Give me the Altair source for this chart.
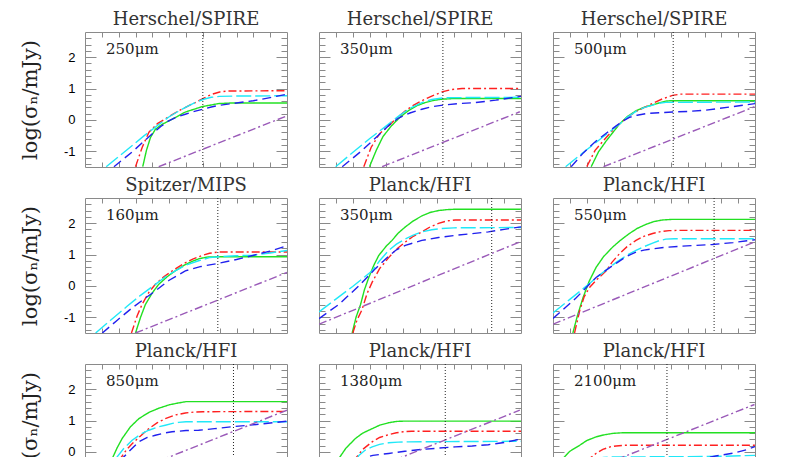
import altair as alt
import pandas as pd

TITLES = ["Herschel/SPIRE", "Herschel/SPIRE", "Herschel/SPIRE",
          "Spitzer/MIPS", "Planck/HFI", "Planck/HFI",
          "Planck/HFI", "Planck/HFI", "Planck/HFI"]
BANDS = ["250μm", "350μm", "500μm", "160μm", "350μm", "550μm",
         "850μm", "1380μm", "2100μm"]
VLINES = [7.0, 7.36, 7.14, 7.89, 10.26, 9.57, 8.82, 7.5, 6.77]

X_TICKS = list(range(1, 12))
Y_MAJOR = [-1, 0, 1, 2]
Y_MINOR = [-1.4, -1.2, -0.8, -0.6, -0.4, -0.2, 0.2, 0.4, 0.6, 0.8,
           1.2, 1.4, 1.6, 1.8, 2.2, 2.4, 2.6]

SERIES = ["s1", "s2", "s3", "s4", "s5"]
COLORS = ["#22e022", "#ff2020", "#20e8f8", "#2020ee", "#9a5ab8"]
DASHES = [[1, 0], [8, 3, 2, 3], [15, 4], [9, 5], [8, 3, 2, 3]]

GREEN = [
    [(3.43, -1.49), (3.65, -0.97), (3.89, -0.56), (4.18, -0.3), (4.58, -0.14), (5.17, 0.02),
     (5.96, 0.25), (6.94, 0.42), (7.93, 0.52), (8.7, 0.54), (12, 0.54)],
    [(3.0, -1.49), (3.4, -0.97), (3.8, -0.53), (4.3, -0.19), (4.8, 0.08), (5.3, 0.29), (5.8, 0.45),
     (6.3, 0.55), (6.8, 0.62), (7.3, 0.66), (8, 0.68), (12, 0.68)],
    [(2.27, -1.49), (2.7, -1.02), (3.16, -0.67), (3.6, -0.37), (3.94, -0.14), (4.4, 0.1), (4.93, 0.29),
     (5.4, 0.4), (5.92, 0.48), (6.3, 0.54), (6.7, 0.6), (7, 0.61), (12, 0.61)],
    [(3.0, -1.5), (3.3, -1.0), (3.59, -0.59), (4.0, -0.22), (4.38, 0.05), (4.9, 0.3), (5.36, 0.48),
     (5.9, 0.66), (6.35, 0.78), (6.8, 0.87), (7.3, 0.92), (8, 0.93), (12, 0.93)],
    [(1.97, -1.5), (2.2, -1.0), (2.47, -0.59), (2.7, -0.12), (2.96, 0.27), (3.25, 0.65), (3.55, 0.97),
     (4.0, 1.27), (4.34, 1.45), (4.7, 1.68), (5.13, 1.88), (5.6, 2.07), (6.11, 2.23), (6.6, 2.34),
     (7.1, 2.4), (7.6, 2.43), (8, 2.44), (12, 2.44)],
    [(1.18, -1.5), (1.45, -0.95), (1.78, -0.38), (2.15, 0.15), (2.56, 0.59), (3.0, 0.93), (3.55, 1.24),
     (4.0, 1.45), (4.54, 1.67), (5.0, 1.83), (5.52, 1.96), (6.0, 2.05), (6.51, 2.1), (7.1, 2.12),
     (12, 2.12)],
    [(1.55, -0.3), (1.62, -0.21), (1.9, 0.12), (2.21, 0.43), (2.7, 0.8), (3.2, 1.06), (3.8, 1.26),
     (4.38, 1.39), (5.0, 1.5), (5.56, 1.56), (6.0, 1.6), (12, 1.6)],
    [(1.05, -0.32), (1.18, -0.21), (1.6, 0.12), (2.17, 0.43), (2.6, 0.6), (3.16, 0.74), (3.6, 0.85),
     (4.14, 0.93), (4.6, 0.97), (5, 0.98), (12, 0.98)],
    [(0.5, -0.31), (0.59, -0.21), (1.0, 0.02), (1.58, 0.21), (2.0, 0.36), (2.56, 0.48), (3.0, 0.54),
     (3.55, 0.59), (4.14, 0.61), (12, 0.61)],
]

RED = [
    [(3.0, -1.49), (3.4, -0.87), (3.8, -0.39), (4.3, -0.12), (4.97, 0.1), (5.5, 0.27), (6.0, 0.41),
     (6.5, 0.54), (7.0, 0.68), (7.5, 0.81), (8.0, 0.89), (8.5, 0.92), (12, 0.93)],
    [(2.66, -1.49), (3.1, -0.87), (3.6, -0.44), (4.14, -0.19), (4.6, 0.05), (5.13, 0.29), (5.6, 0.46),
     (6.11, 0.61), (6.7, 0.76), (7.36, 0.9), (7.9, 0.97), (8.5, 1.0), (12, 1.0)],
    [(2.01, -1.49), (2.5, -0.97), (3.16, -0.56), (3.8, -0.19), (4.54, 0.13), (5.0, 0.29), (5.52, 0.42),
     (6.0, 0.55), (6.5, 0.67), (7.1, 0.78), (7.6, 0.82), (12, 0.82)],
    [(2.76, -1.5), (3.1, -0.95), (3.39, -0.59), (3.8, -0.2), (4.18, 0.05), (4.7, 0.3), (5.3, 0.52),
     (5.9, 0.72), (6.4, 0.85), (6.9, 0.96), (7.4, 1.04), (7.93, 1.08), (12, 1.08)],
    [(2.01, -1.5), (2.25, -1.1), (2.56, -0.75), (2.85, -0.25), (3.16, 0.12), (3.6, 0.55), (4.14, 0.9),
     (4.6, 1.17), (5.13, 1.4), (5.6, 1.58), (6.11, 1.72), (6.6, 1.88), (7.1, 1.99), (7.6, 2.07),
     (8.1, 2.1), (12, 2.1)],
    [(1.28, -1.5), (1.58, -0.8), (1.85, -0.35), (2.17, -0.05), (2.6, 0.2), (3.16, 0.48), (3.5, 0.75),
     (3.94, 1.02), (4.4, 1.25), (4.93, 1.45), (5.4, 1.58), (5.92, 1.67), (6.4, 1.73), (6.9, 1.76),
     (7.5, 1.77), (12, 1.77)],
    [(2.0, -0.3), (2.11, -0.21), (2.45, 0.06), (2.8, 0.26), (3.3, 0.51), (3.79, 0.74), (4.3, 0.93),
     (4.77, 1.06), (5.4, 1.18), (5.96, 1.24), (6.5, 1.27), (7, 1.28), (12, 1.29)],
    [(2.05, -0.32), (2.17, -0.21), (2.6, 0.08), (3.16, 0.32), (3.6, 0.46), (4.14, 0.55), (4.6, 0.61),
     (5.0, 0.64), (5.5, 0.66), (12, 0.66)],
    [(2.05, -0.33), (2.17, -0.21), (2.55, -0.05), (2.96, 0.08), (3.4, 0.16), (3.75, 0.19), (4.2, 0.21),
     (12, 0.21)],
]

CYAN = [
    [(1.26, -1.49), (2.5, -0.95), (3.5, -0.51), (4.4, -0.14), (5.0, 0.1), (5.5, 0.26), (6.0, 0.41),
     (6.5, 0.54), (7.0, 0.65), (7.5, 0.72), (8.0, 0.75), (9, 0.76), (12, 0.77)],
    [(0.99, -1.49), (2, -1.04), (3, -0.6), (4, -0.19), (4.73, 0.12), (5.4, 0.37), (6.11, 0.55),
     (6.7, 0.65), (7.36, 0.7), (8, 0.71), (12, 0.72)],
    [(0.75, -1.49), (2, -0.95), (3, -0.53), (3.94, -0.14), (4.4, 0.08), (4.93, 0.27), (5.4, 0.39),
     (5.92, 0.47), (6.3, 0.53), (6.7, 0.56), (7.5, 0.56), (12, 0.57)],
    [(0.63, -1.5), (1.5, -1.1), (2.5, -0.65), (3.3, -0.3), (4.18, 0.05), (4.8, 0.3), (5.36, 0.48),
     (6.0, 0.66), (6.75, 0.8), (7.4, 0.9), (7.93, 0.93), (9, 0.96), (10, 0.98), (11, 1.05), (12, 1.13)],
    [(0, -0.83), (1, -0.42), (2, -0.02), (3.16, 0.48), (3.6, 0.8), (4.14, 1.13), (4.6, 1.33),
     (5.13, 1.5), (5.6, 1.62), (6.11, 1.72), (6.7, 1.79), (7.3, 1.83), (8, 1.85), (12, 1.86)],
    [(0, -0.86), (1, -0.43), (2, 0.0), (2.8, 0.36), (3.75, 0.75), (4.4, 0.98), (4.93, 1.13),
     (5.4, 1.25), (5.92, 1.36), (6.3, 1.44), (6.7, 1.49), (7.2, 1.5), (12, 1.5)],
    [(1.8, -0.27), (1.91, -0.16), (2.3, 0.11), (2.8, 0.37), (3.3, 0.56), (3.79, 0.69), (4.3, 0.79),
     (4.77, 0.85), (5.2, 0.91), (5.56, 0.94), (6, 0.96), (12, 0.96)],
    [(2.2, -0.28), (2.37, -0.11), (2.75, 0.06), (3.16, 0.16), (3.6, 0.24), (4.14, 0.29), (4.7, 0.31),
     (5.3, 0.32), (12, 0.34)],
    [(2.4, -0.28), (2.56, -0.22), (3.0, -0.18), (3.55, -0.16), (4.5, -0.16), (8, -0.15), (10, -0.14),
     (12, -0.11)],
]

BLUE = [
    [(1.72, -1.49), (2.8, -1.02), (3.98, -0.45), (4.5, -0.21), (4.97, -0.03), (5.5, 0.1), (5.96, 0.18),
     (6.5, 0.27), (6.98, 0.34), (7.5, 0.41), (7.93, 0.46), (9, 0.54), (10, 0.61), (11, 0.71), (12, 0.82)],
    [(1.38, -1.49), (2.5, -1.0), (3.55, -0.48), (4.2, -0.15), (4.73, 0.06), (5.4, 0.22), (6.11, 0.34),
     (6.7, 0.42), (7.36, 0.47), (8.3, 0.52), (9.27, 0.55), (10.5, 0.63), (12, 0.75)],
    [(1.08, -1.49), (1.8, -1.05), (2.56, -0.67), (3.2, -0.41), (3.75, -0.19), (4.2, -0.02), (4.54, 0.08),
     (5.0, 0.15), (5.52, 0.2), (6.3, 0.23), (7.1, 0.25), (8, 0.27), (9.07, 0.31), (10.5, 0.41), (12, 0.52)],
    [(1.03, -1.5), (1.9, -1.1), (2.8, -0.7), (3.5, -0.42), (4.18, -0.16), (5.0, 0.18), (5.96, 0.48),
     (6.9, 0.62), (7.93, 0.72), (9, 0.84), (9.9, 0.96), (11, 1.11), (12, 1.28)],
    [(0, -1.04), (1.18, -0.59), (2.37, 0.0), (3.35, 0.55), (4.14, 0.95), (4.6, 1.15), (5.13, 1.29),
     (6.11, 1.45), (7.1, 1.54), (8.09, 1.61), (9, 1.66), (10.06, 1.72), (11, 1.8), (12, 1.88)],
    [(0, -1.04), (1.38, -0.38), (2.56, 0.27), (3.2, 0.52), (3.75, 0.72), (4.4, 0.95), (4.93, 1.08),
     (5.4, 1.14), (5.92, 1.18), (6.7, 1.23), (7.5, 1.26), (8.5, 1.29), (9.47, 1.32), (10.7, 1.38), (12, 1.47)],
    [(2.1, -0.31), (2.21, -0.21), (2.7, 0.06), (3.2, 0.32), (3.7, 0.46), (4.18, 0.53), (4.7, 0.6),
     (5.17, 0.64), (6, 0.68), (6.75, 0.69), (7.7, 0.74), (8.72, 0.8), (10.3, 0.88), (12, 0.98)],
    [(2.3, -0.33), (2.56, -0.21), (3.2, -0.11), (4.14, -0.05), (5.1, 0.02), (6.11, 0.08), (7.1, 0.12),
     (8.09, 0.16), (9.1, 0.19), (10.06, 0.23), (11, 0.3), (12, 0.41)],
    [(8.5, -0.25), (9.67, -0.13), (10.8, -0.03), (11.5, 0.07), (12, 0.17)],
]

PURPLE = [
    [(4.38, -1.49), (12, 0.13)],
    [(3.75, -1.49), (11.93, 0.26)],
    [(3.0, -1.49), (11.97, 0.42)],
    [(3.0, -1.5), (12, 0.43)],
    [(0, -1.22), (11.93, 1.4)],
    [(0, -1.22), (11.97, 1.4)],
    [(4.5, -0.27), (12, 1.33)],
    [(4.5, -0.26), (11.93, 1.33)],
    [(3.8, -0.24), (11.97, 1.51)],
]

GRAY = "#8a8a8a"
SERIF = "DejaVu Serif"

XS = alt.Scale(domain=[0, 12], nice=False, zero=False)
YS = alt.Scale(domain=[-1.5, 2.8], nice=False, zero=False)

TICK_ONLY = dict(domain=False, grid=False, labels=False, title=None,
                 tickColor=GRAY, tickWidth=1, minExtent=0)


def tick_axis(orient, values, size):
    return alt.Axis(orient=orient, values=values, tickSize=size, offset=-size, **TICK_ONLY)


def panel_df(i):
    rows = []
    for name, pts in zip(SERIES, [GREEN, RED, CYAN, BLUE, PURPLE]):
        for k, (x, y) in enumerate(pts[i]):
            rows.append({"s": name, "x": x, "y": y, "k": k})
    return pd.DataFrame(rows)


def panel(i):
    df = panel_df(i)
    base = alt.Chart(df)
    if i % 3 == 0:
        y_left = alt.Axis(orient="left", values=Y_MAJOR, tickSize=11, offset=-11,
                          domain=False, grid=False, tickColor=GRAY, tickWidth=1, minExtent=0,
                          labels=True, labelExpr="toString(datum.value)",
                          labelFont="Liberation Sans", labelFontSize=13, labelColor="black",
                          labelPadding=10,
                          title="log(σₙ/mJy)", titleFont=SERIF, titleFontSize=21,
                          titleFontWeight="normal", titleColor="#222", titlePadding=23)
    else:
        y_left = tick_axis("left", Y_MAJOR, 11)

    lines = base.mark_line(strokeWidth=1.4, clip=True).encode(
        x=alt.X("x:Q", scale=XS, axis=tick_axis("bottom", X_TICKS, 5)),
        y=alt.Y("y:Q", scale=YS, axis=y_left),
        color=alt.Color("s:N", scale=alt.Scale(domain=SERIES, range=COLORS), legend=None),
        strokeDash=alt.StrokeDash("s:N", scale=alt.Scale(domain=SERIES, range=DASHES), legend=None),
        order=alt.Order("k:Q"),
    )
    ghost = base.mark_point(opacity=0)
    a2 = ghost.encode(
        x=alt.X("x:Q", scale=XS, axis=tick_axis("top", X_TICKS, 5)),
        y=alt.Y("y:Q", scale=YS, axis=tick_axis("left", Y_MINOR, 6)),
    )
    a3 = ghost.encode(
        x=alt.X("x:Q", scale=XS, axis=None),
        y=alt.Y("y:Q", scale=YS, axis=tick_axis("right", Y_MAJOR, 11)),
    )
    a4 = ghost.encode(
        x=alt.X("x:Q", scale=XS, axis=None),
        y=alt.Y("y:Q", scale=YS, axis=tick_axis("right", Y_MINOR, 6)),
    )
    vline = alt.Chart(pd.DataFrame({"v": [VLINES[i]]})).mark_rule(
        color="#222", strokeDash=[1, 2], strokeWidth=1
    ).encode(x=alt.X("v:Q", scale=XS, axis=None))
    label = alt.Chart(pd.DataFrame({"t": [BANDS[i]]})).mark_text(
        align="left", baseline="alphabetic", font=SERIF, fontSize=15, color="#222"
    ).encode(x=alt.value(21), y=alt.value(22), text="t:N")

    return alt.layer(lines, a2, a3, a4, vline, label).resolve_axis(
        x="independent", y="independent"
    ).properties(
        width=202, height=135,
        title=alt.TitleParams(TITLES[i], font=SERIF, fontSize=18, fontWeight="normal",
                              color="#333", anchor="middle", baseline="alphabetic", offset=-11),
    )


chart = alt.concat(
    *[panel(i) for i in range(9)], columns=3,
    spacing={"row": 31, "column": 32}, bounds="flush",
).properties(
    padding={"left": 10, "top": 2, "right": 5, "bottom": 5},
).configure_view(stroke=GRAY, strokeWidth=1)

chart.save("out.html", embed_options={"renderer": "svg", "actions": False})
